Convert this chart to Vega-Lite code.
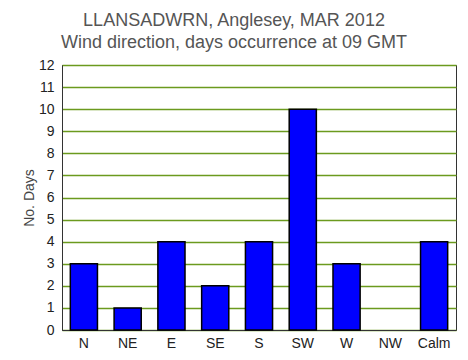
{
  "$schema": "https://vega.github.io/schema/vega-lite/v6.json",
  "autosize": "none",
  "width": 394,
  "height": 265,
  "padding": {"left": 62, "top": 65, "right": 12, "bottom": 30},
  "background": "white",
  "title": {
    "text": ["LLANSADWRN, Anglesey, MAR 2012", "Wind direction, days occurrence at 09 GMT"],
    "font": "Liberation Sans",
    "fontSize": 18,
    "fontWeight": "normal",
    "color": "#555555",
    "lineHeight": 22,
    "anchor": "middle",
    "dx": -25,
    "offset": 6
  },
  "config": {
    "view": {"stroke": "#333333", "strokeWidth": 1},
    "font": "Liberation Sans"
  },
  "data": {
    "values": [
      {"dir": "N", "days": 3},
      {"dir": "NE", "days": 1},
      {"dir": "E", "days": 4},
      {"dir": "SE", "days": 2},
      {"dir": "S", "days": 4},
      {"dir": "SW", "days": 10},
      {"dir": "W", "days": 3},
      {"dir": "NW", "days": 0},
      {"dir": "Calm", "days": 4}
    ]
  },
  "mark": {"type": "bar", "color": "#0000ff", "stroke": "#000000", "strokeWidth": 1.5},
  "encoding": {
    "x": {
      "field": "dir",
      "type": "nominal",
      "sort": null,
      "scale": {"paddingInner": 0.38, "paddingOuter": 0.19},
      "axis": {
        "title": null,
        "labelAngle": 0,
        "labelFont": "Liberation Sans",
        "labelFontSize": 14,
        "labelColor": "#222222",
        "labelPadding": 6,
        "ticks": false,
        "domainColor": "#333333",
        "grid": false
      }
    },
    "y": {
      "field": "days",
      "type": "quantitative",
      "scale": {"domain": [0, 12], "nice": false},
      "axis": {
        "title": "No. Days",
        "titleFont": "Liberation Sans",
        "titleFontSize": 14,
        "titleFontWeight": "normal",
        "titleColor": "#444444",
        "titlePadding": 2,
        "values": [0, 1, 2, 3, 4, 5, 6, 7, 8, 9, 10, 11, 12],
        "labelFont": "Liberation Sans",
        "labelFontSize": 14,
        "labelColor": "#222222",
        "labelPadding": 8,
        "ticks": false,
        "domainColor": "#333333",
        "grid": true,
        "gridColor": "#6b9a1e",
        "gridWidth": 1.5,
        "gridOpacity": 1
      }
    },
    "strokeOpacity": {"condition": {"test": "datum.days == 0", "value": 0}, "value": 1}
  }
}
